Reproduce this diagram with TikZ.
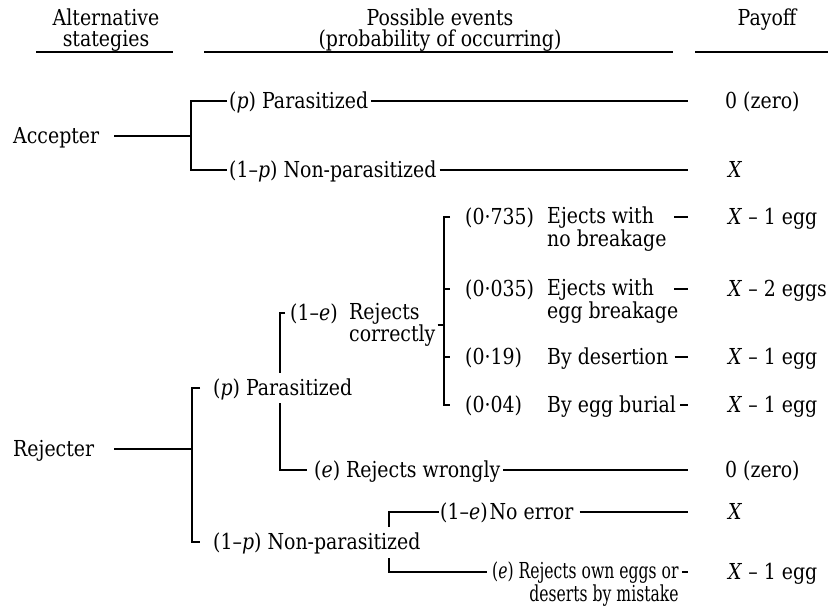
\documentclass[tikz,border=0pt]{standalone}
\usepackage{fontspec}
\setmainfont{DejaVu Serif}[FakeStretch=0.86]
\newfontfamily\tightfont{DejaVu Serif}[FakeStretch=0.71]
\usepackage{tikz}
\usetikzlibrary{positioning}

\newcommand{\vv}[1]{\textit{#1}}

\begin{document}
\begin{tikzpicture}[x=1pt, y=-1pt,
  every node/.style={font=\fontsize{22}{21}\selectfont},
  lbl/.style={inner sep=0pt, anchor=west, text height=14pt, text depth=0pt},
  lbltwo/.style={inner sep=0pt, anchor=west, align=left},
  head/.style={inner sep=0pt, anchor=north, align=center},
  branch/.style={line width=1.15pt},
  rule/.style={line width=1.4pt}]
  \useasboundingbox (0,0) rectangle (829,608);
  % column headings
  \node[head] (hstrat) at (106,8.5) {Alternative\\stategies};
  \node[head] (hevent) at (440,8.5) {Possible events\\(probability of occurring)};
  \node[head] (hpay) at (767,8.5) {Payoff};
  \draw[rule] (36,52) -- (173,52);
  \draw[rule] (204,52) -- (673,52);
  \draw[rule] (695,52) -- (828,52);
  % right end of the event rows
  \coordinate (rend) at (688,0);
  \coordinate (dstart) at (674,0);

  % accepter
  \node[lbl] (acc) at (13,136) {Accepter};
  \coordinate (accfork) at (191,136);
  \node[lbl] (accP) at (229,101) {(\vv{p}) Parasitized};
  \node[lbl] (accN) at (229,170) {(1--\vv{p}) Non-parasitized};
  \draw[branch] (acc.east) ++(15,0) -- (accfork);
  \draw[branch] ([xshift=-2pt]accP.west) -| (accfork) |- ([xshift=-2pt]accN.west);
  \draw[branch] (accP.east) ++(3,0) -- (accP -| rend);
  \draw[branch] (accN.east) ++(3,0) -- (accN -| rend);

  % rejecter
  \node[lbl] (rej) at (13,449) {Rejecter};
  \coordinate (rejfork) at (192,449);
  \node[lbl] (rjP) at (213,388) {(\vv{p}) Parasitized};
  \node[lbl] (rjN) at (213,542) {(1--\vv{p}) Non-parasitized};
  \draw[branch] (rej.east) ++(20,0) -- (rejfork);
  \draw[branch] ([xshift=-13pt]rjP.west) -| (rejfork) |- ([xshift=-13pt]rjN.west);

  % rejects correctly / wrongly
  \coordinate (cup) at (280,373);
  \coordinate (cdown) at (280,403);
  \node[lbl] (pc) at (290,313) {(1--\vv{e})};
  \node[lbltwo] (rc) at (349,325) {Rejects\\correctly};
  \node[lbl] (rw) at (314,470) {(\vv{e}) Rejects wrongly};
  \draw[branch] ([xshift=-5pt]pc.west) -| (cup);
  \draw[branch] (cdown) |- ([xshift=-7pt]rw.west);
  \draw[branch] (rw.east) ++(3,0) -- (rw -| rend);

  % ways of rejecting
  \coordinate (efork) at (444,325);
  \node[lbl] (p1) at (465,217) {(0·735)};
  \node[lbl] (p2) at (465,289) {(0·035)};
  \node[lbl] (p3) at (465,357) {(0·19)};
  \node[lbl] (p4) at (465,405) {(0·04)};
  \node[lbltwo] (ej1) at (547,229) {Ejects with\\no breakage};
  \node[lbltwo] (ej2) at (547,301) {Ejects with\\egg breakage};
  \node[lbl] (des) at (547,357) {By desertion};
  \node[lbl] (bur) at (547,405) {By egg burial};
  \draw[branch] (rc.east) ++(2,0) -- (efork);
  \draw[branch] ([xshift=-15pt]p1.west) -| (efork) |- ([xshift=-15pt]p4.west);
  \draw[branch] (efork |- p2) -- ([xshift=-15pt]p2.west);
  \draw[branch] (efork |- p3) -- ([xshift=-15pt]p3.west);
  \draw[branch] (p1 -| dstart) -- (p1 -| rend);
  \draw[branch] (p2 -| dstart) -- (p2 -| rend);
  \draw[branch] (des.east) ++(6,0) -- (des -| rend);
  \draw[branch] (bur.east) ++(4,0) -- (bur -| rend);

  % non-parasitized rejecter
  \coordinate (nup) at (389,527);
  \coordinate (ndown) at (389,558);
  \node[lbl] (ne) at (440,512) {(1--\vv{e})\kern2pt No error};
  \node[lbltwo, align=right, font=\fontsize{22}{21}\tightfont] (mis) at (492,584)
    {(\vv{e}) Rejects own eggs or\\deserts by mistake};
  \draw[branch] (nup) |- ([xshift=-1pt]ne.west);
  \draw[branch] (ndown) |- ([yshift=12pt,xshift=-5pt]mis.west);
  \draw[branch] (ne.east) ++(6,0) -- (ne -| rend);
  \draw[branch] ([yshift=12pt]mis.east) ++(3,0) -- ([yshift=12pt]mis.east -| rend);

  % payoffs
  \node[lbl] (y1) at (725,101) {0 (zero)};
  \node[lbl] (y2) at (728,170) {\vv{X}};
  \node[lbl] (y3) at (728,217) {\vv{X} -- 1 egg};
  \node[lbl] (y4) at (728,289) {\vv{X} -- 2 eggs};
  \node[lbl] (y5) at (728,357) {\vv{X} -- 1 egg};
  \node[lbl] (y6) at (728,405) {\vv{X} -- 1 egg};
  \node[lbl] (y7) at (725,470) {0 (zero)};
  \node[lbl] (y8) at (728,512) {\vv{X}};
  \node[lbl] (y9) at (728,572) {\vv{X} -- 1 egg};
\end{tikzpicture}
\end{document}
